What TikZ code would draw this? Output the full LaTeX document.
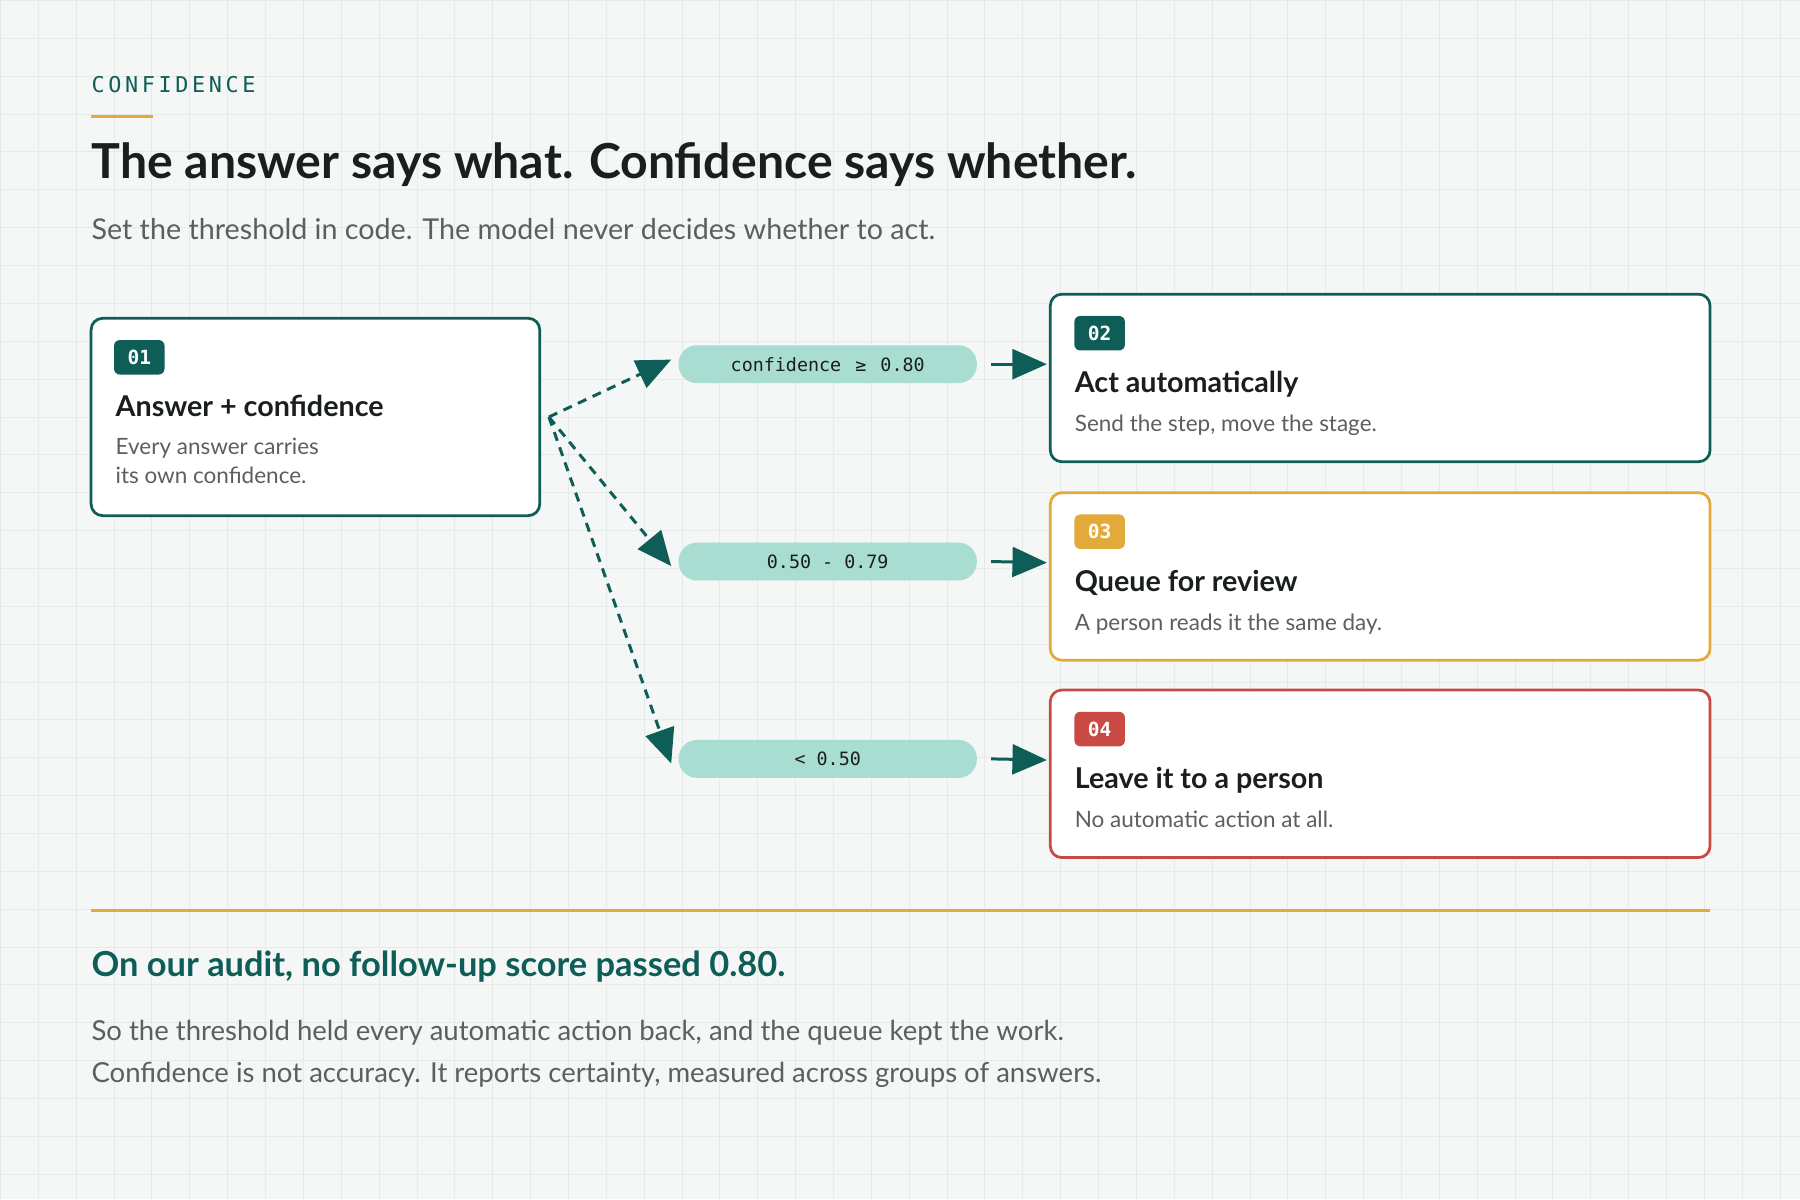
\documentclass[tikz,border=0pt]{standalone}
\usepackage{fontspec}
\setmainfont{Lato}
\setmonofont{DejaVu Sans Mono}
\usetikzlibrary{arrows.meta,positioning}
\definecolor{teal}{HTML}{0E5E57}
\definecolor{amber}{HTML}{E3A93A}
\definecolor{brick}{HTML}{C94A45}
\definecolor{mint}{HTML}{A9DDD1}
\definecolor{ink}{HTML}{1A1F1E}
\definecolor{muted}{HTML}{5A605E}
\definecolor{paper}{HTML}{F4F7F6}
\definecolor{gridline}{HTML}{E6EBE9}
\begin{document}
\begin{tikzpicture}[x=0.5pt,y=-0.5pt,>={Triangle[length=15pt,width=13pt]}]
        \tikzset{
            card/.style={draw=#1, line width=1.2pt, fill=white, rounded corners=5pt},
            badge/.style={fill=#1, rounded corners=2.5pt, text=white,
                font=\ttfamily\bfseries\fontsize{8.5}{10}\selectfont,
                minimum width=22pt, minimum height=15pt, inner sep=0pt},
            heading/.style={anchor=base west, inner sep=0pt, text=ink,
                font=\bfseries\fontsize{12.5}{14}\selectfont},
            note/.style={anchor=base west, inner sep=0pt, text=muted,
                font=\fontsize{9.8}{12.5}\selectfont, align=left},
            pill/.style={fill=mint, rounded corners=8pt, minimum width=130pt,
                minimum height=16.5pt, inner sep=0pt, text=ink,
                font=\ttfamily\fontsize{8}{10}\selectfont},
            fork/.style={->, teal, line width=1.3pt, dash pattern=on 4pt off 3pt},
            route/.style={->, teal, line width=1.3pt},
        }
        % background
        \fill[paper] (0,0) rectangle (1568,1045);
        \foreach \g in {0,33,...,1568} \draw[gridline,line width=0.4pt] (\g,0) -- (\g,1045);
        \foreach \g in {0,33,...,1045} \draw[gridline,line width=0.4pt] (0,\g) -- (1568,\g);
        \useasboundingbox (0,0) rectangle (1568,1045);
        % header
        \node[anchor=base west, inner sep=0pt, text=teal,
            font=\ttfamily\fontsize{9.5}{11}\selectfont] (kicker) at (79,80)
            {C\,O\,N\,F\,I\,D\,E\,N\,C\,E};
        \draw[amber, line width=1.5pt] (79,101) -- (133,101);
        \node[anchor=base west, inner sep=0pt, text=ink,
            font=\bfseries\fontsize{21}{24}\selectfont] (title) at (79,155)
            {The answer says what. Confidence says whether.};
        \node[anchor=base west, inner sep=0pt, text=muted,
            font=\fontsize{12.5}{14}\selectfont] (subtitle) at (79,208)
            {Set the threshold in code. The model never decides whether to act.};
        % source card
        \draw[card=teal] (79,277) rectangle (470,449);
        \node[badge=teal] (b1) at (121,311) {01};
        \node[heading] (h1) at (100,363) {Answer + confidence};
        \node[note] (n1) at (100,421) {Every answer carries\\its own confidence.};
        \coordinate (split) at (478,363);
        % outcome cards
        \foreach \n/\y/\c/\h/\d in {
            02/256/teal/Act automatically/{Send the step, move the stage.},
            03/429/amber/Queue for review/{A person reads it the same day.},
            04/601/brick/Leave it to a person/{No automatic action at all.}} {
            \draw[card=\c] (915,\y) rectangle (1490,\y+146);
            \node[badge=\c] (b\n) at (958,\y+34) {\n};
            \node[heading] (h\n) at (936,\y+86) {\h};
            \node[note] (n\n) at (936,\y+120) {\d};
            \coordinate (in\n) at (912,\y+61);
        }
        % thresholds
        \node[pill] (hi) at (721,317) {confidence \,≥\, 0.80};
        \node[pill] (mid) at (721,489) {0.50 - 0.79};
        \node[pill] (lo) at (721,661) {< 0.50};
%% paths
\draw[fork] (split) -- ([xshift=-3pt,yshift=2pt]hi.west);
\draw[fork] (split) -- ([xshift=-3pt,yshift=-2pt]mid.west);
\draw[fork] (split) -- ([xshift=-3pt,yshift=-2pt]lo.west);
\draw[route] ([xshift=6pt]hi.east) -- (in02);
\draw[route] ([xshift=6pt]mid.east) -- (in03);
\draw[route] ([xshift=6pt]lo.east) -- (in04);
        % footer
        \draw[amber, line width=1.5pt] (79,793) -- (1490,793);
        \node[anchor=base west, inner sep=0pt, text=teal,
            font=\bfseries\fontsize{15}{18}\selectfont] (audit) at (79,851)
            {On our audit, no follow-up score passed 0.80.};
        \node[anchor=base west, inner sep=0pt, text=muted, align=left,
            font=\fontsize{12}{18.5}\selectfont] (closing) at (79,943)
            {So the threshold held every automatic action back, and the queue kept the work.\\
             Confidence is not accuracy. It reports certainty, measured across groups of answers.};
\end{tikzpicture}
\end{document}
